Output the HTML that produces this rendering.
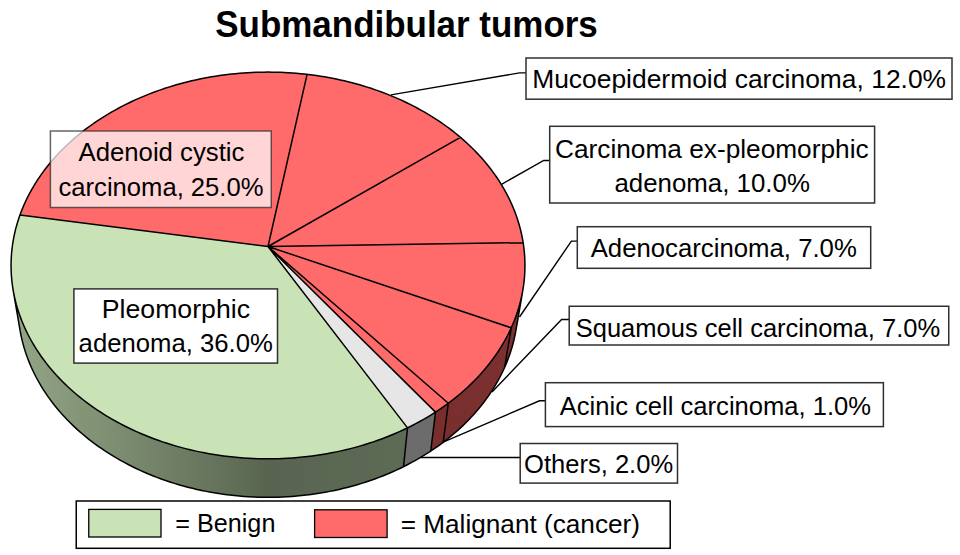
<!DOCTYPE html>
<html><head><meta charset="utf-8"><style>
html,body{margin:0;padding:0;background:#fff;width:960px;height:555px;overflow:hidden}
svg{display:block}
text{font-family:"Liberation Sans",sans-serif;fill:#000}
</style></head><body>
<svg width="960" height="555" viewBox="0 0 960 555">
<rect width="960" height="555" fill="#fff"/>
<defs><linearGradient id="gR" gradientUnits="userSpaceOnUse" x1="13.18" y1="0" x2="522.82" y2="0"><stop offset="0.0000" stop-color="#bc4c4c"/><stop offset="0.0056" stop-color="#bb4b4b"/><stop offset="0.0136" stop-color="#b94b4b"/><stop offset="0.0240" stop-color="#b84a4a"/><stop offset="0.0368" stop-color="#b64949"/><stop offset="0.0520" stop-color="#b44848"/><stop offset="0.0694" stop-color="#b14747"/><stop offset="0.0892" stop-color="#af4646"/><stop offset="0.1112" stop-color="#ac4545"/><stop offset="0.1353" stop-color="#a84343"/><stop offset="0.1614" stop-color="#a54242"/><stop offset="0.1894" stop-color="#a14040"/><stop offset="0.2192" stop-color="#9c3e3e"/><stop offset="0.2506" stop-color="#983c3c"/><stop offset="0.2834" stop-color="#933a3a"/><stop offset="0.3175" stop-color="#8e3737"/><stop offset="0.3527" stop-color="#893535"/><stop offset="0.3887" stop-color="#843333"/><stop offset="0.4255" stop-color="#7e3030"/><stop offset="0.4626" stop-color="#782e2e"/><stop offset="0.5000" stop-color="#722b2b"/><stop offset="0.5374" stop-color="#732b2b"/><stop offset="0.5745" stop-color="#742c2c"/><stop offset="0.6113" stop-color="#742c2c"/><stop offset="0.6473" stop-color="#752d2d"/><stop offset="0.6825" stop-color="#762d2d"/><stop offset="0.7166" stop-color="#772d2d"/><stop offset="0.7494" stop-color="#782e2e"/><stop offset="0.7808" stop-color="#782e2e"/><stop offset="0.8106" stop-color="#792e2e"/><stop offset="0.8386" stop-color="#792e2e"/><stop offset="0.8647" stop-color="#7a2f2f"/><stop offset="0.8888" stop-color="#7a2f2f"/><stop offset="0.9108" stop-color="#7b2f2f"/><stop offset="0.9306" stop-color="#7b2f2f"/><stop offset="0.9480" stop-color="#7b2f2f"/><stop offset="0.9632" stop-color="#7b2f2f"/><stop offset="0.9760" stop-color="#7c2f2f"/><stop offset="0.9864" stop-color="#7c2f2f"/><stop offset="0.9944" stop-color="#7c2f2f"/><stop offset="1.0000" stop-color="#7b2f2f"/></linearGradient><linearGradient id="gG" gradientUnits="userSpaceOnUse" x1="13.18" y1="0" x2="522.82" y2="0"><stop offset="0.0000" stop-color="#93a786"/><stop offset="0.0056" stop-color="#92a685"/><stop offset="0.0136" stop-color="#91a584"/><stop offset="0.0240" stop-color="#90a383"/><stop offset="0.0368" stop-color="#8fa181"/><stop offset="0.0520" stop-color="#8da080"/><stop offset="0.0694" stop-color="#8b9d7e"/><stop offset="0.0892" stop-color="#899b7c"/><stop offset="0.1112" stop-color="#86987a"/><stop offset="0.1353" stop-color="#849577"/><stop offset="0.1614" stop-color="#819275"/><stop offset="0.1894" stop-color="#7e8f72"/><stop offset="0.2192" stop-color="#7a8b6f"/><stop offset="0.2506" stop-color="#77876b"/><stop offset="0.2834" stop-color="#738268"/><stop offset="0.3175" stop-color="#6e7e64"/><stop offset="0.3527" stop-color="#6b7960"/><stop offset="0.3887" stop-color="#66755d"/><stop offset="0.4255" stop-color="#626f59"/><stop offset="0.4626" stop-color="#5d6a54"/><stop offset="0.5000" stop-color="#58644f"/><stop offset="0.5374" stop-color="#596550"/><stop offset="0.5745" stop-color="#5a6651"/><stop offset="0.6113" stop-color="#5a6752"/><stop offset="0.6473" stop-color="#5b6852"/><stop offset="0.6825" stop-color="#5c6853"/><stop offset="0.7166" stop-color="#5c6953"/><stop offset="0.7494" stop-color="#5d6a54"/><stop offset="0.7808" stop-color="#5d6a54"/><stop offset="0.8106" stop-color="#5e6b55"/><stop offset="0.8386" stop-color="#5e6b55"/><stop offset="0.8647" stop-color="#5f6c56"/><stop offset="0.8888" stop-color="#5f6c56"/><stop offset="0.9108" stop-color="#5f6c56"/><stop offset="0.9306" stop-color="#5f6d56"/><stop offset="0.9480" stop-color="#606d56"/><stop offset="0.9632" stop-color="#606d57"/><stop offset="0.9760" stop-color="#606d57"/><stop offset="0.9864" stop-color="#606d57"/><stop offset="0.9944" stop-color="#606d57"/><stop offset="1.0000" stop-color="#606d57"/></linearGradient><linearGradient id="gY" gradientUnits="userSpaceOnUse" x1="13.18" y1="0" x2="522.82" y2="0"><stop offset="0.0000" stop-color="#aaa9a9"/><stop offset="0.0056" stop-color="#a9a8a8"/><stop offset="0.0136" stop-color="#a8a7a7"/><stop offset="0.0240" stop-color="#a6a5a5"/><stop offset="0.0368" stop-color="#a4a4a4"/><stop offset="0.0520" stop-color="#a2a2a2"/><stop offset="0.0694" stop-color="#a09f9f"/><stop offset="0.0892" stop-color="#9e9d9d"/><stop offset="0.1112" stop-color="#9b9a9a"/><stop offset="0.1353" stop-color="#989797"/><stop offset="0.1614" stop-color="#959494"/><stop offset="0.1894" stop-color="#919090"/><stop offset="0.2192" stop-color="#8d8d8d"/><stop offset="0.2506" stop-color="#898888"/><stop offset="0.2834" stop-color="#858484"/><stop offset="0.3175" stop-color="#807f7f"/><stop offset="0.3527" stop-color="#7b7b7b"/><stop offset="0.3887" stop-color="#777676"/><stop offset="0.4255" stop-color="#727171"/><stop offset="0.4626" stop-color="#6c6c6c"/><stop offset="0.5000" stop-color="#666666"/><stop offset="0.5374" stop-color="#676767"/><stop offset="0.5745" stop-color="#686868"/><stop offset="0.6113" stop-color="#696868"/><stop offset="0.6473" stop-color="#6a6969"/><stop offset="0.6825" stop-color="#6a6a6a"/><stop offset="0.7166" stop-color="#6b6b6b"/><stop offset="0.7494" stop-color="#6c6b6b"/><stop offset="0.7808" stop-color="#6c6c6c"/><stop offset="0.8106" stop-color="#6d6c6c"/><stop offset="0.8386" stop-color="#6d6d6d"/><stop offset="0.8647" stop-color="#6e6d6d"/><stop offset="0.8888" stop-color="#6e6e6e"/><stop offset="0.9108" stop-color="#6e6e6e"/><stop offset="0.9306" stop-color="#6f6e6e"/><stop offset="0.9480" stop-color="#6f6e6e"/><stop offset="0.9632" stop-color="#6f6f6f"/><stop offset="0.9760" stop-color="#6f6f6f"/><stop offset="0.9864" stop-color="#6f6f6f"/><stop offset="0.9944" stop-color="#6f6f6f"/><stop offset="1.0000" stop-color="#6f6f6f"/></linearGradient></defs>
<path d="M522.82 290.28 L522.19 293.72 L521.47 297.17 L520.67 300.6 L519.79 304.03 L518.82 307.46 L517.76 310.88 L516.63 314.28 L515.41 317.68 L514.1 321.07 L512.71 324.44 L511.24 327.8 L504.54 367.61 L505.98 364.28 L507.35 360.94 L508.63 357.58 L509.83 354.21 L510.94 350.83 L511.98 347.44 L512.93 344.04 L513.8 340.64 L514.59 337.22 L515.3 333.81 L515.93 330.39 Z" fill="url(#gR)"/>
<path d="M511.24 327.8 L509.69 331.13 L508.05 334.44 L506.33 337.74 L504.53 341.02 L502.65 344.28 L500.68 347.51 L498.63 350.72 L496.5 353.91 L494.29 357.08 L492 360.21 L489.63 363.32 L487.18 366.4 L484.64 369.45 L482.03 372.47 L479.34 375.46 L476.58 378.41 L473.74 381.33 L470.82 384.21 L467.82 387.05 L464.75 389.85 L461.61 392.61 L458.4 395.33 L455.11 398.01 L451.75 400.65 L448.32 403.24 L443.18 442.33 L446.51 439.77 L449.78 437.16 L452.98 434.51 L456.11 431.82 L459.17 429.08 L462.16 426.31 L465.08 423.5 L467.93 420.65 L470.7 417.76 L473.39 414.84 L476.01 411.88 L478.56 408.89 L481.03 405.87 L483.42 402.82 L485.74 399.74 L487.97 396.63 L490.13 393.49 L492.21 390.33 L494.21 387.15 L496.13 383.94 L497.98 380.72 L499.74 377.47 L501.42 374.2 L503.02 370.91 L504.54 367.61 Z" fill="url(#gR)"/>
<path d="M448.32 403.24 L444.15 406.26 L439.89 409.22 L435.53 412.1 L430.73 451.1 L434.97 448.25 L439.12 445.32 L443.18 442.33 Z" fill="url(#gR)"/>
<path d="M435.53 412.1 L431.72 414.52 L427.84 416.88 L423.9 419.19 L419.9 421.45 L415.84 423.64 L411.71 425.78 L407.53 427.86 L403.5 466.69 L407.57 464.63 L411.58 462.52 L415.53 460.35 L419.42 458.12 L423.25 455.83 L427.02 453.49 L430.73 451.1 Z" fill="url(#gY)"/>
<path d="M407.53 427.86 L403.4 429.83 L399.23 431.74 L395 433.59 L390.72 435.38 L386.39 437.11 L382.02 438.77 L377.61 440.38 L373.15 441.92 L368.64 443.41 L364.1 444.82 L359.52 446.17 L354.91 447.46 L350.26 448.68 L345.57 449.83 L340.86 450.92 L336.11 451.94 L331.34 452.89 L326.55 453.77 L321.73 454.58 L316.88 455.33 L312.02 456 L307.14 456.6 L302.25 457.13 L297.34 457.59 L292.42 457.98 L287.49 458.3 L282.55 458.55 L277.61 458.72 L272.66 458.83 L267.71 458.86 L262.76 458.82 L257.81 458.7 L252.87 458.52 L247.93 458.27 L243 457.94 L238.08 457.54 L233.18 457.07 L228.28 456.53 L223.41 455.92 L218.55 455.24 L213.71 454.49 L208.89 453.67 L204.1 452.78 L199.33 451.82 L194.59 450.8 L189.88 449.7 L185.2 448.54 L180.55 447.31 L175.94 446.02 L171.36 444.66 L166.83 443.24 L162.33 441.75 L157.87 440.2 L153.46 438.58 L149.1 436.91 L144.78 435.17 L140.5 433.37 L136.28 431.52 L132.11 429.6 L127.99 427.63 L123.93 425.6 L119.92 423.52 L115.97 421.38 L112.08 419.18 L108.25 416.94 L104.48 414.64 L100.77 412.29 L97.12 409.9 L93.54 407.45 L90.03 404.96 L86.58 402.42 L83.2 399.84 L79.89 397.21 L76.65 394.54 L73.48 391.82 L70.38 389.07 L67.36 386.28 L64.4 383.45 L61.53 380.58 L58.73 377.68 L56 374.74 L53.35 371.77 L50.78 368.77 L48.28 365.73 L45.87 362.67 L43.53 359.58 L41.27 356.46 L39.09 353.32 L36.99 350.15 L34.97 346.96 L33.04 343.74 L31.18 340.5 L29.41 337.25 L27.71 333.98 L26.1 330.68 L24.57 327.38 L23.13 324.06 L21.76 320.72 L20.48 317.37 L19.28 314.01 L18.16 310.64 L17.12 307.26 L16.17 303.88 L15.3 300.48 L14.51 297.09 L13.8 293.68 L13.18 290.28 L20.07 330.39 L20.69 333.77 L21.39 337.15 L22.17 340.52 L23.03 343.88 L23.96 347.24 L24.98 350.6 L26.08 353.94 L27.26 357.27 L28.52 360.59 L29.86 363.9 L31.27 367.19 L32.77 370.47 L34.35 373.73 L36.01 376.98 L37.74 380.21 L39.56 383.41 L41.45 386.6 L43.42 389.76 L45.47 392.9 L47.6 396.02 L49.8 399.11 L52.08 402.17 L54.44 405.21 L56.88 408.21 L59.38 411.18 L61.97 414.13 L64.63 417.03 L67.36 419.91 L70.16 422.75 L73.04 425.55 L75.98 428.31 L79 431.04 L82.09 433.72 L85.24 436.37 L88.46 438.97 L91.75 441.52 L95.11 444.04 L98.53 446.5 L102.01 448.92 L105.56 451.29 L109.17 453.62 L112.83 455.89 L116.56 458.11 L120.35 460.28 L124.19 462.39 L128.08 464.45 L132.03 466.46 L136.04 468.41 L140.09 470.3 L144.19 472.14 L148.34 473.91 L152.54 475.63 L156.78 477.29 L161.07 478.88 L165.4 480.42 L169.77 481.89 L174.17 483.3 L178.62 484.64 L183.1 485.92 L187.61 487.13 L192.15 488.28 L196.73 489.36 L201.33 490.38 L205.96 491.32 L210.62 492.2 L215.29 493.01 L219.99 493.75 L224.71 494.43 L229.44 495.03 L234.19 495.56 L238.96 496.03 L243.73 496.42 L248.52 496.74 L253.31 496.99 L258.11 497.18 L262.91 497.29 L267.72 497.33 L272.52 497.29 L277.33 497.19 L282.13 497.02 L286.92 496.78 L291.71 496.46 L296.48 496.08 L301.25 495.62 L306 495.1 L310.74 494.5 L315.46 493.84 L320.16 493.1 L324.84 492.3 L329.49 491.43 L334.13 490.49 L338.73 489.48 L343.31 488.41 L347.86 487.27 L352.38 486.06 L356.86 484.79 L361.31 483.46 L365.72 482.06 L370.09 480.59 L374.43 479.07 L378.72 477.48 L382.96 475.83 L387.17 474.12 L391.32 472.35 L395.43 470.52 L399.49 468.63 L403.5 466.69 Z" fill="url(#gG)"/>
<path d="M268 246.5 L307.08 74.36 L311.12 74.85 L315.14 75.39 L319.16 75.98 L323.16 76.62 L327.15 77.3 L331.13 78.04 L335.1 78.82 L339.04 79.65 L342.98 80.52 L346.89 81.45 L350.79 82.42 L354.67 83.44 L358.52 84.51 L362.36 85.62 L366.18 86.78 L369.97 87.99 L373.74 89.24 L377.48 90.54 L381.2 91.89 L384.89 93.28 L388.56 94.72 L392.2 96.2 L395.8 97.73 L399.38 99.3 L402.93 100.92 L406.44 102.58 L409.93 104.28 L413.37 106.03 L416.79 107.83 L420.16 109.66 L423.51 111.54 L426.81 113.47 L430.07 115.43 L433.3 117.44 L436.48 119.49 L439.63 121.57 L442.73 123.7 L445.79 125.87 L448.8 128.08 L451.77 130.33 L454.7 132.62 L457.57 134.95 L460.4 137.32 Z" fill="#FF6A6A"/>
<path d="M268 246.5 L460.4 137.32 L463.17 139.71 L465.89 142.14 L468.56 144.61 L471.18 147.11 L473.75 149.65 L476.26 152.22 L478.72 154.83 L481.13 157.47 L483.48 160.15 L485.77 162.86 L488.01 165.6 L490.19 168.37 L492.31 171.17 L494.38 174.01 L496.38 176.87 L498.32 179.76 L500.2 182.69 L502.02 185.64 L503.77 188.61 L505.46 191.62 L507.08 194.65 L508.64 197.7 L510.13 200.78 L511.56 203.88 L512.92 207.01 L514.2 210.16 L515.42 213.32 L516.57 216.51 L517.65 219.72 L518.65 222.95 L519.59 226.2 L520.45 229.46 L521.23 232.74 L521.95 236.03 L522.59 239.34 L523.15 242.66 Z" fill="#FF6A6A"/>
<path d="M268 246.5 L523.15 242.66 L523.64 246.03 L524.05 249.4 L524.39 252.78 L524.65 256.18 L524.82 259.58 L524.92 262.99 L524.94 266.41 L524.88 269.83 L524.74 273.26 L524.51 276.69 L524.21 280.12 L523.82 283.56 L523.35 286.99 L522.8 290.42 L522.16 293.86 L521.45 297.28 L520.65 300.71 L519.76 304.13 L518.79 307.54 L517.74 310.94 L516.61 314.34 L515.39 317.72 L514.09 321.09 L512.71 324.45 L511.24 327.8 Z" fill="#FF6A6A"/>
<path d="M268 246.5 L511.24 327.8 L509.69 331.13 L508.05 334.44 L506.33 337.74 L504.53 341.02 L502.65 344.28 L500.68 347.51 L498.63 350.72 L496.5 353.91 L494.29 357.08 L492 360.21 L489.63 363.32 L487.18 366.4 L484.64 369.45 L482.03 372.47 L479.34 375.46 L476.58 378.41 L473.74 381.33 L470.82 384.21 L467.82 387.05 L464.75 389.85 L461.61 392.61 L458.4 395.33 L455.11 398.01 L451.75 400.65 L448.32 403.24 Z" fill="#FF6A6A"/>
<path d="M268 246.5 L448.32 403.24 L444.15 406.26 L439.89 409.22 L435.53 412.1 Z" fill="#FF6A6A"/>
<path d="M268 246.5 L435.53 412.1 L431.72 414.52 L427.84 416.88 L423.9 419.19 L419.9 421.45 L415.84 423.64 L411.71 425.78 L407.53 427.86 Z" fill="#E7E6E6"/>
<path d="M268 246.5 L407.53 427.86 L403.38 429.84 L399.19 431.75 L394.94 433.61 L390.65 435.41 L386.3 437.14 L381.91 438.82 L377.47 440.43 L372.99 441.98 L368.47 443.46 L363.9 444.88 L359.3 446.24 L354.66 447.53 L349.99 448.75 L345.28 449.9 L340.55 450.99 L335.78 452.01 L330.99 452.96 L326.17 453.84 L321.33 454.65 L316.46 455.39 L311.58 456.06 L306.67 456.65 L301.76 457.18 L296.83 457.64 L291.88 458.02 L286.93 458.33 L281.97 458.57 L277 458.74 L272.03 458.83 L267.06 458.86 L262.09 458.81 L257.12 458.68 L252.16 458.49 L247.2 458.22 L242.25 457.88 L237.31 457.47 L232.39 456.99 L227.47 456.44 L222.58 455.81 L217.7 455.12 L212.84 454.35 L208.01 453.51 L203.2 452.61 L198.42 451.63 L193.66 450.59 L188.94 449.47 L184.24 448.29 L179.58 447.05 L174.96 445.73 L170.37 444.35 L165.82 442.91 L161.32 441.4 L156.85 439.83 L152.43 438.19 L148.05 436.49 L143.73 434.74 L139.45 432.92 L135.22 431.04 L131.05 429.1 L126.93 427.1 L122.86 425.05 L118.85 422.94 L114.9 420.78 L111 418.56 L107.17 416.29 L103.4 413.97 L99.7 411.6 L96.05 409.18 L92.48 406.71 L88.97 404.19 L85.53 401.62 L82.15 399.01 L78.85 396.36 L75.62 393.67 L72.46 390.93 L69.37 388.15 L66.36 385.33 L63.42 382.48 L60.55 379.58 L57.77 376.66 L55.05 373.7 L52.42 370.7 L49.86 367.67 L47.39 364.62 L44.99 361.53 L42.67 358.41 L40.43 355.27 L38.28 352.1 L36.2 348.91 L34.2 345.7 L32.29 342.46 L30.46 339.2 L28.71 335.92 L27.04 332.63 L25.46 329.32 L23.96 325.99 L22.54 322.64 L21.2 319.29 L19.95 315.92 L18.78 312.54 L17.69 309.15 L16.69 305.76 L15.77 302.35 L14.93 298.94 L14.18 295.53 L13.5 292.11 L12.91 288.69 L12.4 285.26 L11.98 281.84 L11.63 278.42 L11.37 275 L11.18 271.58 L11.08 268.17 L11.06 264.76 L11.11 261.36 L11.25 257.96 L11.46 254.57 L11.76 251.19 L12.13 247.83 L12.58 244.47 L13.1 241.12 L13.7 237.79 L14.38 234.48 L15.13 231.17 L15.96 227.89 L16.86 224.62 L17.83 221.36 L18.88 218.13 L20 214.92 Z" fill="#C9E3B7"/>
<path d="M268 246.5 L20 214.92 L21.19 211.7 L22.46 208.51 L23.8 205.34 L25.21 202.19 L26.69 199.06 L28.23 195.96 L29.85 192.89 L31.53 189.84 L33.28 186.82 L35.09 183.83 L36.96 180.86 L38.9 177.92 L40.91 175.02 L42.97 172.14 L45.1 169.3 L47.28 166.48 L49.53 163.7 L51.83 160.95 L54.19 158.24 L56.61 155.55 L59.09 152.91 L61.61 150.3 L64.2 147.72 L66.83 145.18 L69.52 142.68 L72.26 140.21 L75.05 137.79 L77.89 135.4 L80.77 133.05 L83.71 130.74 L86.69 128.46 L89.72 126.23 L92.79 124.04 L95.9 121.89 L99.06 119.78 L102.26 117.71 L105.5 115.69 L108.79 113.71 L112.11 111.77 L115.46 109.87 L118.86 108.02 L122.29 106.21 L125.76 104.44 L129.26 102.72 L132.8 101.04 L136.36 99.41 L139.96 97.83 L143.59 96.29 L147.25 94.79 L150.94 93.34 L154.66 91.94 L158.4 90.58 L162.17 89.27 L165.96 88.01 L169.78 86.8 L173.62 85.63 L177.48 84.51 L181.36 83.43 L185.27 82.41 L189.19 81.43 L193.13 80.5 L197.09 79.62 L201.06 78.79 L205.05 78 L209.06 77.27 L213.08 76.58 L217.11 75.94 L221.15 75.35 L225.2 74.81 L229.27 74.32 L233.34 73.88 L237.42 73.48 L241.51 73.14 L245.6 72.84 L249.7 72.6 L253.8 72.4 L257.9 72.26 L262.01 72.16 L266.12 72.11 L270.23 72.12 L274.34 72.17 L278.45 72.27 L282.55 72.42 L286.65 72.62 L290.75 72.87 L294.84 73.17 L298.93 73.51 L303.01 73.91 L307.08 74.36 Z" fill="#FF6A6A"/>
<path d="M268 246.5 L307.08 74.36 M268 246.5 L460.4 137.32 M268 246.5 L523.15 242.66 M268 246.5 L511.24 327.8 M511.24 327.8 L504.54 367.61 M268 246.5 L448.32 403.24 M448.32 403.24 L443.18 442.33 M268 246.5 L435.53 412.1 M435.53 412.1 L430.73 451.1 M268 246.5 L407.53 427.86 M407.53 427.86 L403.5 466.69 M268 246.5 L20 214.92 M523.7 246.5 L524.1 249.85 L524.43 253.21 L524.67 256.57 L524.84 259.95 L524.93 263.34 L524.94 266.73 L524.87 270.12 L524.72 273.52 L524.49 276.93 L524.19 280.33 L523.8 283.74 L523.33 287.15 L522.78 290.55 L522.14 293.96 L521.43 297.36 L520.63 300.76 L519.76 304.15 L518.8 307.53 L517.75 310.91 L516.63 314.28 L515.42 317.63 L514.14 320.98 L512.76 324.31 L511.31 327.63 L509.78 330.94 L508.16 334.23 L506.46 337.5 L504.68 340.75 L502.82 343.99 L500.88 347.2 L498.85 350.39 L496.75 353.55 L494.56 356.7 L492.3 359.81 L489.96 362.9 L487.54 365.96 L485.04 368.99 L482.46 371.99 L479.8 374.96 L477.07 377.89 L474.27 380.79 L471.38 383.65 L468.43 386.48 L465.4 389.27 L462.3 392.02 L459.12 394.73 L455.88 397.4 L452.56 400.02 L449.18 402.6 L445.73 405.14 L442.21 407.62 L438.63 410.07 L434.98 412.46 L431.27 414.8 L427.49 417.09 L423.66 419.34 L419.76 421.52 L415.81 423.66 L411.8 425.74 L407.73 427.76 L403.61 429.73 L399.44 431.64 L395.21 433.49 L390.94 435.29 L386.62 437.02 L382.25 438.69 L377.84 440.3 L373.38 441.85 L368.88 443.33 L364.34 444.75 L359.77 446.1 L355.15 447.39 L350.51 448.62 L345.83 449.77 L341.11 450.86 L336.37 451.88 L331.6 452.84 L326.81 453.72 L321.99 454.54 L317.15 455.29 L312.3 455.96 L307.42 456.57 L302.53 457.1 L297.62 457.57 L292.7 457.96 L287.77 458.28 L282.84 458.53 L277.89 458.71 L272.95 458.82 L268 458.86 L263.05 458.82 L258.11 458.71 L253.16 458.53 L248.23 458.28 L243.3 457.96 L238.38 457.57 L233.47 457.1 L228.58 456.57 L223.7 455.96 L218.85 455.29 L214.01 454.54 L209.19 453.72 L204.4 452.84 L199.63 451.88 L194.89 450.86 L190.17 449.77 L185.49 448.62 L180.85 447.39 L176.23 446.1 L171.66 444.75 L167.12 443.33 L162.62 441.85 L158.16 440.3 L153.75 438.69 L149.38 437.02 L145.06 435.29 L140.79 433.49 L136.56 431.64 L132.39 429.73 L128.27 427.76 L124.2 425.74 L120.19 423.66 L116.24 421.52 L112.34 419.34 L108.51 417.09 L104.73 414.8 L101.02 412.46 L97.37 410.07 L93.79 407.62 L90.27 405.14 L86.82 402.6 L83.44 400.02 L80.12 397.4 L76.88 394.73 L73.7 392.02 L70.6 389.27 L67.57 386.48 L64.62 383.65 L61.73 380.79 L58.93 377.89 L56.2 374.96 L53.54 371.99 L50.96 368.99 L48.46 365.96 L46.04 362.9 L43.7 359.81 L41.44 356.7 L39.25 353.55 L37.15 350.39 L35.12 347.2 L33.18 343.99 L31.32 340.75 L29.54 337.5 L27.84 334.23 L26.22 330.94 L24.69 327.63 L23.24 324.31 L21.86 320.98 L20.58 317.63 L19.37 314.28 L18.25 310.91 L17.2 307.53 L16.24 304.15 L15.37 300.76 L14.57 297.36 L13.86 293.96 L13.22 290.55 L12.67 287.15 L12.2 283.74 L11.81 280.33 L11.51 276.93 L11.28 273.52 L11.13 270.12 L11.06 266.73 L11.07 263.34 L11.16 259.95 L11.33 256.57 L11.57 253.21 L11.9 249.85 L12.3 246.5 L12.77 243.16 L13.32 239.84 L13.95 236.53 L14.65 233.23 L15.43 229.95 L16.28 226.68 L17.2 223.44 L18.2 220.21 L19.26 216.99 L20.4 213.8 L21.61 210.63 L22.89 207.48 L24.23 204.35 L25.65 201.24 L27.13 198.16 L28.68 195.1 L30.29 192.07 L31.97 189.06 L33.72 186.08 L35.52 183.13 L37.39 180.2 L39.32 177.3 L41.32 174.43 L43.37 171.6 L45.49 168.79 L47.66 166.01 L49.89 163.27 L52.17 160.55 L54.52 157.87 L56.91 155.22 L59.37 152.61 L61.87 150.03 L64.43 147.49 L67.04 144.98 L69.7 142.51 L72.42 140.07 L75.18 137.68 L77.99 135.31 L80.84 132.99 L83.75 130.71 L86.69 128.46 L89.69 126.25 L92.72 124.09 L95.8 121.96 L98.93 119.87 L102.09 117.83 L105.29 115.82 L108.53 113.86 L111.81 111.93 L115.13 110.05 L118.49 108.22 L121.88 106.42 L125.3 104.67 L128.76 102.96 L132.25 101.3 L135.77 99.68 L139.33 98.1 L142.91 96.57 L146.52 95.08 L150.17 93.64 L153.83 92.24 L157.53 90.89 L161.25 89.59 L165 88.33 L168.76 87.11 L172.56 85.94 L176.37 84.82 L180.2 83.75 L184.06 82.72 L187.93 81.74 L191.82 80.8 L195.73 79.92 L199.66 79.07 L203.6 78.28 L207.55 77.54 L211.52 76.84 L215.5 76.19 L219.49 75.59 L223.5 75.03 L227.51 74.52 L231.53 74.07 L235.57 73.66 L239.6 73.29 L243.65 72.98 L247.7 72.71 L251.75 72.5 L255.81 72.33 L259.87 72.21 L263.94 72.13 L268 72.11 L272.06 72.13 L276.13 72.21 L280.19 72.33 L284.25 72.5 L288.3 72.71 L292.35 72.98 L296.4 73.29 L300.43 73.66 L304.47 74.07 L308.49 74.52 L312.5 75.03 L316.51 75.59 L320.5 76.19 L324.48 76.84 L328.45 77.54 L332.4 78.28 L336.34 79.07 L340.27 79.92 L344.18 80.8 L348.07 81.74 L351.94 82.72 L355.8 83.75 L359.63 84.82 L363.44 85.94 L367.24 87.11 L371 88.33 L374.75 89.59 L378.47 90.89 L382.17 92.24 L385.83 93.64 L389.48 95.08 L393.09 96.57 L396.67 98.1 L400.23 99.68 L403.75 101.3 L407.24 102.96 L410.7 104.67 L414.12 106.42 L417.51 108.22 L420.87 110.05 L424.19 111.93 L427.47 113.86 L430.71 115.82 L433.91 117.83 L437.07 119.87 L440.2 121.96 L443.28 124.09 L446.31 126.25 L449.31 128.46 L452.25 130.71 L455.16 132.99 L458.01 135.31 L460.82 137.68 L463.58 140.07 L466.3 142.51 L468.96 144.98 L471.57 147.49 L474.13 150.03 L476.63 152.61 L479.09 155.22 L481.48 157.87 L483.83 160.55 L486.11 163.27 L488.34 166.01 L490.51 168.79 L492.63 171.6 L494.68 174.43 L496.68 177.3 L498.61 180.2 L500.48 183.13 L502.28 186.08 L504.03 189.06 L505.71 192.07 L507.32 195.1 L508.87 198.16 L510.35 201.24 L511.77 204.35 L513.11 207.48 L514.39 210.63 L515.6 213.8 L516.74 216.99 L517.8 220.21 L518.8 223.44 L519.72 226.68 L520.57 229.95 L521.35 233.23 L522.05 236.53 L522.68 239.84 L523.23 243.16 L523.7 246.5 Z M515.93 330.39 L515.31 333.77 L514.61 337.15 L513.83 340.53 L512.97 343.89 L512.03 347.26 L511.01 350.61 L509.91 353.96 L508.73 357.29 L507.47 360.61 L506.13 363.92 L504.71 367.22 L503.21 370.5 L501.63 373.77 L499.98 377.01 L498.24 380.24 L496.42 383.45 L494.53 386.64 L492.55 389.81 L490.5 392.95 L488.37 396.07 L486.16 399.16 L483.88 402.22 L481.52 405.26 L479.08 408.26 L476.57 411.24 L473.98 414.18 L471.32 417.09 L468.58 419.97 L465.78 422.81 L462.9 425.61 L459.95 428.38 L456.93 431.1 L453.84 433.79 L450.68 436.43 L447.45 439.04 L444.15 441.59 L440.8 444.11 L437.37 446.57 L433.88 448.99 L430.33 451.36 L426.72 453.69 L423.05 455.96 L419.32 458.18 L415.53 460.35 L411.68 462.46 L407.78 464.52 L403.82 466.53 L399.82 468.48 L395.76 470.37 L391.65 472.21 L387.49 473.98 L383.29 475.7 L379.04 477.35 L374.75 478.95 L370.42 480.48 L366.05 481.95 L361.63 483.36 L357.19 484.7 L352.7 485.97 L348.18 487.19 L343.63 488.33 L339.05 489.41 L334.45 490.42 L329.81 491.37 L325.15 492.24 L320.47 493.05 L315.77 493.79 L311.05 494.46 L306.31 495.06 L301.55 495.59 L296.78 496.05 L292 496.44 L287.21 496.76 L282.42 497.01 L277.62 497.18 L272.81 497.29 L268 497.33 L263.19 497.29 L258.38 497.18 L253.58 497.01 L248.79 496.76 L244 496.44 L239.22 496.05 L234.45 495.59 L229.69 495.06 L224.95 494.46 L220.23 493.79 L215.53 493.05 L210.85 492.24 L206.19 491.37 L201.55 490.42 L196.95 489.41 L192.37 488.33 L187.82 487.19 L183.3 485.97 L178.81 484.7 L174.37 483.36 L169.95 481.95 L165.58 480.48 L161.25 478.95 L156.96 477.35 L152.71 475.7 L148.51 473.98 L144.35 472.21 L140.24 470.37 L136.18 468.48 L132.18 466.53 L128.22 464.52 L124.32 462.46 L120.47 460.35 L116.68 458.18 L112.95 455.96 L109.28 453.69 L105.67 451.36 L102.12 448.99 L98.63 446.57 L95.2 444.11 L91.85 441.59 L88.55 439.04 L85.32 436.43 L82.16 433.79 L79.07 431.1 L76.05 428.38 L73.1 425.61 L70.22 422.81 L67.42 419.97 L64.68 417.09 L62.02 414.18 L59.43 411.24 L56.92 408.26 L54.48 405.26 L52.12 402.22 L49.84 399.16 L47.63 396.07 L45.5 392.95 L43.45 389.81 L41.47 386.64 L39.58 383.45 L37.76 380.24 L36.02 377.01 L34.37 373.77 L32.79 370.5 L31.29 367.22 L29.87 363.92 L28.53 360.61 L27.27 357.29 L26.09 353.96 L24.99 350.61 L23.97 347.26 L23.03 343.89 L22.17 340.53 L21.39 337.15 L20.69 333.77 L20.07 330.39 M522.82 290.28 L515.93 330.39 M13.18 290.28 L20.07 330.39" fill="none" stroke="#000" stroke-width="1.5" stroke-linejoin="round"/>
<path d="M390.9 94.9 L519.6 72.9 L526 72.9 M501.5 184.3 L543.75 160.5 L549.7 160.5 M519.5 317 L571.4 241.1 L577.3 241.1 M492 392 L561.6 319.5 L569.2 319.5 M444.3 441.7 L539.5 400.8 L545.4 400.8 M420.5 457.5 L520.2 457.5" fill="none" stroke="#000" stroke-width="1.4"/>
<rect x="526" y="58" width="426" height="41.2" fill="#fff" fill-opacity="1" stroke="#303030" stroke-width="1.5" stroke-opacity="1"/>
<rect x="549.7" y="126.3" width="324.9" height="76.7" fill="#fff" fill-opacity="1" stroke="#303030" stroke-width="1.5" stroke-opacity="1"/>
<rect x="577.3" y="226.7" width="293.4" height="41.6" fill="#fff" fill-opacity="1" stroke="#303030" stroke-width="1.5" stroke-opacity="1"/>
<rect x="569.2" y="306.25" width="379.55" height="38.75" fill="#fff" fill-opacity="1" stroke="#303030" stroke-width="1.5" stroke-opacity="1"/>
<rect x="545.4" y="382.7" width="338" height="43.9" fill="#fff" fill-opacity="1" stroke="#303030" stroke-width="1.5" stroke-opacity="1"/>
<rect x="520.2" y="443.5" width="157.3" height="39.6" fill="#fff" fill-opacity="1" stroke="#303030" stroke-width="1.5" stroke-opacity="1"/>
<rect x="50.4" y="131" width="220.85" height="76.5" fill="#fff" fill-opacity="0.72" stroke="#303030" stroke-width="1.5" stroke-opacity="0.75"/>
<rect x="73.9" y="288.9" width="203.6" height="74.2" fill="#fff" fill-opacity="1" stroke="#303030" stroke-width="1.5" stroke-opacity="1"/>
<rect x="76.25" y="501" width="593.95" height="47.3" fill="#fff" stroke="#000" stroke-width="1.5"/>
<rect x="88.75" y="509.4" width="72.25" height="27.6" fill="#C9E3B7" stroke="#000" stroke-width="1.3"/>
<rect x="314.6" y="509.8" width="72.5" height="27.7" fill="#FF6A6A" stroke="#000" stroke-width="1.3"/>
<text x="215.31" y="37.25" font-size="37" font-weight="bold" textLength="382.49" lengthAdjust="spacingAndGlyphs">Submandibular tumors</text>
<text x="532.17" y="88.2" font-size="26" textLength="413.95" lengthAdjust="spacingAndGlyphs">Mucoepidermoid carcinoma, 12.0%</text>
<text x="554.99" y="157.5" font-size="26" textLength="313.61" lengthAdjust="spacingAndGlyphs">Carcinoma ex-pleomorphic</text>
<text x="614.41" y="192.2" font-size="26" textLength="195.51" lengthAdjust="spacingAndGlyphs">adenoma, 10.0%</text>
<text x="590.7" y="256.7" font-size="26" textLength="266.12" lengthAdjust="spacingAndGlyphs">Adenocarcinoma, 7.0%</text>
<text x="575.72" y="336.7" font-size="26" textLength="364.4" lengthAdjust="spacingAndGlyphs">Squamous cell carcinoma, 7.0%</text>
<text x="559.7" y="414.7" font-size="26" textLength="311.42" lengthAdjust="spacingAndGlyphs">Acinic cell carcinoma, 1.0%</text>
<text x="524.02" y="472.7" font-size="26" textLength="149.1" lengthAdjust="spacingAndGlyphs">Others, 2.0%</text>
<text x="78.5" y="161.1" font-size="26" textLength="165.9" lengthAdjust="spacingAndGlyphs">Adenoid cystic</text>
<text x="58.51" y="195.5" font-size="26" textLength="205" lengthAdjust="spacingAndGlyphs">carcinoma, 25.0%</text>
<text x="101.75" y="318.3" font-size="26" textLength="148.25" lengthAdjust="spacingAndGlyphs">Pleomorphic</text>
<text x="78.61" y="351.9" font-size="26" textLength="194.2" lengthAdjust="spacingAndGlyphs">adenoma, 36.0%</text>
<text x="175.28" y="532.2" font-size="26" textLength="100.13" lengthAdjust="spacingAndGlyphs">= Benign</text>
<text x="400.69" y="532.75" font-size="26" textLength="239.27" lengthAdjust="spacingAndGlyphs">= Malignant (cancer)</text>
</svg>
</body></html>
